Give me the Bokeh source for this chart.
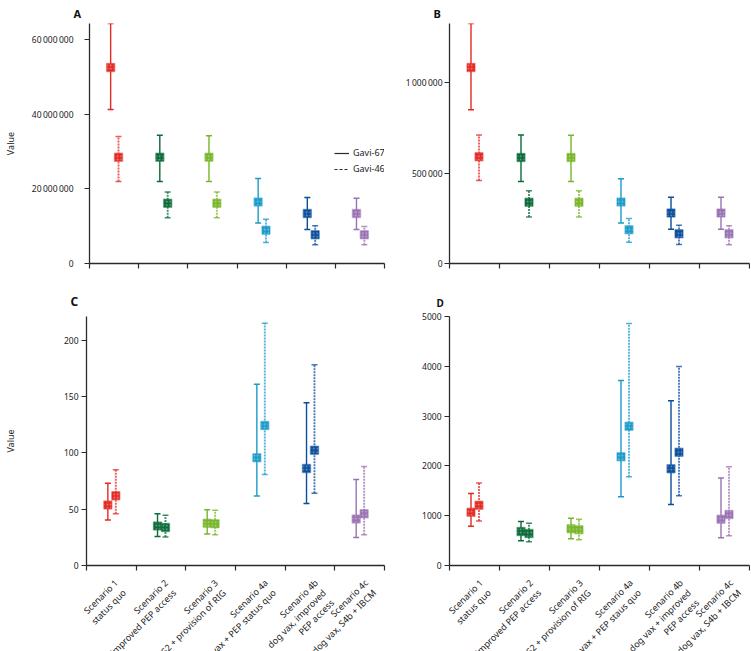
import math
from bokeh.plotting import figure
from bokeh.layouts import column, row
from bokeh.models import FixedTicker, Range1d, Label, Legend, LegendItem
from bokeh.embed import file_html
from bokeh.resources import INLINE

FONT = "Noto Sans"

labels_C = ["Scenario 1\nstatus quo", "Scenario 2\nimproved PEP access",
            "Scenario 3\nS2 + provision of RIG", "Scenario 4a\ndog vax + PEP status quo",
            "Scenario 4b\ndog vax, improved\nPEP access", "Scenario 4c\ndog vax, S4b + IBCM"]
labels_D = ["Scenario 1\nstatus quo", "Scenario 2\nimproved PEP access",
            "Scenario 3\nS2 + provision of RIG", "Scenario 4a\ndog vax + PEP staus quo",
            "Scenario 4b\ndog vax + improved\nPEP access", "Scenario 4c\ndog vax, S4b + IBCM"]
series_names = ["Gavi-67", "Gavi-46"]
colors = ["#e42a23", "#0b6b39", "#77b52a", "#1c9bc9", "#0b4e9b", "#9a72b3"]

# Panel A
A_g67_mid = [52.6e6, 28.5e6, 28.5e6, 16.5e6, 13.4e6, 13.4e6]
A_g67_lo = [41.3e6, 22.0e6, 22.0e6, 10.9e6, 9.1e6, 9.1e6]
A_g67_hi = [64.4e6, 34.4e6, 34.3e6, 22.8e6, 17.7e6, 17.5e6]
A_g46_mid = [28.5e6, 16.2e6, 16.2e6, 8.9e6, 7.7e6, 7.7e6]
A_g46_lo = [22.0e6, 12.3e6, 12.3e6, 5.65e6, 5.0e6, 5.0e6]
A_g46_hi = [34.1e6, 19.2e6, 19.2e6, 11.9e6, 10.1e6, 9.9e6]
A_ticks = [0, 20e6, 40e6, 60e6]
A_tick_labels = ["0", "20\u2009000\u2009000", "40\u2009000\u2009000", "60\u2009000\u2009000"]

# Panel B
B_g67_mid = [1.083e6, 0.586e6, 0.586e6, 0.340e6, 0.279e6, 0.279e6]
B_g67_lo = [0.850e6, 0.453e6, 0.453e6, 0.224e6, 0.189e6, 0.189e6]
B_g67_hi = [1.326e6, 0.710e6, 0.709e6, 0.468e6, 0.366e6, 0.366e6]
B_g46_mid = [0.590e6, 0.339e6, 0.339e6, 0.186e6, 0.164e6, 0.164e6]
B_g46_lo = [0.459e6, 0.257e6, 0.257e6, 0.118e6, 0.105e6, 0.104e6]
B_g46_hi = [0.710e6, 0.402e6, 0.402e6, 0.249e6, 0.211e6, 0.208e6]
B_ticks = [0, 500000, 1000000]
B_tick_labels = ["0", "500\u2009000", "1\u2009000\u2009000"]

# Panel C
C_g67_mid = [53.6, 35.0, 37.6, 95.6, 86.1, 41.2]
C_g67_lo = [40.3, 25.7, 27.9, 61.6, 55.0, 24.8]
C_g67_hi = [73.1, 45.9, 49.4, 160.9, 144.4, 76.3]
C_g46_mid = [61.8, 33.7, 37.0, 124.2, 102.4, 45.9]
C_g46_lo = [45.9, 25.2, 27.2, 80.7, 64.2, 27.2]
C_g46_hi = [84.9, 44.7, 49.1, 215.1, 178.1, 87.8]
C_ticks = [0, 50, 100, 150, 200]
C_tick_labels = ["0", "50", "100", "150", "200"]

# Panel D
D_g67_mid = [1070, 682, 736, 2185, 1945, 930]
D_g67_lo = [790, 495, 535, 1383, 1223, 555]
D_g67_hi = [1444, 882, 950, 3717, 3308, 1758]
D_g46_mid = [1211, 642, 716, 2795, 2273, 1022]
D_g46_lo = [896, 475, 515, 1784, 1403, 595]
D_g46_hi = [1658, 850, 930, 4860, 3998, 1985]
D_ticks = [0, 1000, 2000, 3000, 4000, 5000]
D_tick_labels = ["0", "1000", "2000", "3000", "4000", "5000"]

AXIS_COLOR = "#2b2b2b"
TEXT_COLOR = "#222222"
C45 = math.cos(math.pi / 4)
FRAME_W = 300
N_CAT = 6


def make_panel(letter, ymax, yticks, ylabels, g67, g46, width, height,
               b_left, b_right, b_top, b_bottom, ylabel, tick_standoff, label_standoff,
               letter_offset, letter_size, letter_standoff, legend=False):
    p = figure(width=width, height=height, x_range=Range1d(0, N_CAT), y_range=Range1d(0, ymax),
               output_backend="svg", toolbar_location=None,
               min_border_left=b_left, min_border_right=b_right,
               min_border_top=b_top, min_border_bottom=b_bottom)
    p.grid.visible = False
    p.outline_line_color = None
    p.background_fill_color = "white"
    p.border_fill_color = "white"

    p.title.text = letter
    p.title.align = "left"
    p.title.offset = letter_offset
    p.title.standoff = letter_standoff
    p.title.text_font = FONT
    p.title.text_font_size = letter_size
    p.title.text_font_style = "bold"
    p.title.text_color = "#111111"

    # x axis: ticks at category boundaries only
    xa = p.xaxis[0]
    xa.ticker = FixedTicker(ticks=[], minor_ticks=list(range(N_CAT + 1)))
    xa.major_tick_line_color = None
    xa.major_tick_out = 0
    xa.major_tick_in = 0
    xa.major_label_standoff = 0
    xa.major_label_text_font_size = "0px"
    xa.minor_tick_line_color = AXIS_COLOR
    xa.minor_tick_line_width = 1.2
    xa.minor_tick_in = 0
    xa.minor_tick_out = 5
    xa.axis_line_color = AXIS_COLOR
    xa.axis_line_width = 1.3

    # y axis
    ya = p.yaxis[0]
    ya.ticker = FixedTicker(ticks=yticks)
    ya.major_label_overrides = {t: l for t, l in zip(yticks, ylabels)}
    ya.major_label_text_font = FONT
    ya.major_label_text_font_size = "8.5px"
    ya.major_label_text_color = TEXT_COLOR
    ya.major_tick_in = 0
    ya.major_tick_out = 5
    ya.major_tick_line_width = 1.2
    ya.major_tick_line_color = AXIS_COLOR
    ya.minor_tick_line_color = None
    ya.axis_line_color = AXIS_COLOR
    ya.axis_line_width = 1.3
    ya.major_label_standoff = tick_standoff
    if ylabel:
        ya.axis_label = ylabel
        ya.axis_label_text_font = FONT
        ya.axis_label_text_font_size = "9px"
        ya.axis_label_text_font_style = "normal"
        ya.axis_label_text_color = TEXT_COLOR
        ya.axis_label_standoff = label_standoff

    offsets = [-0.07, 0.09]
    for s, (mid, lo, hi) in enumerate([g67, g46]):
        xs = [i + 0.5 + offsets[s] for i in range(N_CAT)]
        dash = "solid" if s == 0 else "2 1"
        lw = 1.4 if s == 0 else 1.9
        la = 1.0 if s == 0 else 0.75
        p.segment(x0=xs, y0=lo, x1=xs, y1=hi, line_color=colors, line_width=lw,
                  line_dash=dash, line_alpha=la)
        p.scatter(x=xs + xs, y=lo + hi, marker="dash", size=6, angle=0,
                  line_color=colors + colors, line_width=1.5, line_alpha=la)
        p.scatter(x=xs, y=mid, marker="square", size=8, fill_color=colors,
                  line_color=colors, line_alpha=0.45, line_width=1.5,
                  hatch_pattern="dot", hatch_color="white", hatch_alpha=0.45,
                  hatch_scale=3.5, hatch_weight=1)

    if legend:
        r1 = p.line(x=[0], y=[0], line_color=AXIS_COLOR, line_width=1.2, visible=False)
        r2 = p.line(x=[0], y=[0], line_color=AXIS_COLOR, line_width=1.2, line_dash="3 2",
                    visible=False)
        lg = Legend(items=[LegendItem(label=series_names[0], renderers=[r1]),
                           LegendItem(label=series_names[1], renderers=[r2])],
                    location=(245, 88), border_line_color=None,
                    background_fill_alpha=0, label_text_font=FONT,
                    label_text_font_size="9px", label_text_color=TEXT_COLOR,
                    glyph_width=15, glyph_height=12, label_height=12,
                    spacing=3, padding=0, margin=0, label_standoff=4)
        p.add_layout(lg)
    return p


def make_label_strip(xlabels, width, height, frame_left, frame_right_border):
    # a strip below a panel carrying the rotated category labels;
    # its x scale is aligned with the panel above (50 px per category)
    ppu = FRAME_W / N_CAT
    xr = Range1d(-frame_left / ppu, N_CAT + frame_right_border / ppu)
    p = figure(width=width, height=height, x_range=xr, y_range=Range1d(-1, 0),
               x_axis_type=None, y_axis_type=None,
               output_backend="svg", toolbar_location=None,
               min_border_left=0, min_border_right=0, min_border_top=0, min_border_bottom=0)
    p.grid.visible = False
    p.outline_line_color = None
    p.background_fill_color = "white"
    p.border_fill_color = "white"
    # screen displacement of the end of the first line from (category centre, strip top)
    dx, dy = 5.0, -2.0
    base_u = C45 * (dx + dy)      # offsets are applied in the rotated text frame
    base_v = C45 * (dy - dx)
    line_h = 10.0
    slide = 8.0
    for i, lab in enumerate(xlabels):
        for j, txt in enumerate(lab.split("\n")):
            p.add_layout(Label(x=i + 0.5, y=0, x_offset=base_u + j * slide,
                               y_offset=base_v - j * line_h,
                               text=txt, angle=math.pi / 4, text_align="right",
                               text_baseline="top", text_font=FONT, text_font_size="9px",
                               text_color=TEXT_COLOR))
    return p


TOP_H = 275
BOT_H = 296
LAB_H = 80
W_L, W_R = 389, 361
pA = make_panel("A", 64.4e6, A_ticks, A_tick_labels,
                (A_g67_mid, A_g67_lo, A_g67_hi), (A_g46_mid, A_g46_lo, A_g46_hi),
                W_L, TOP_H, 84, 5, 21, 12, "Value", 11, 12,
                -16, "11px", 6, legend=True)
pB = make_panel("B", 1.326e6, B_ticks, B_tick_labels,
                (B_g67_mid, B_g67_lo, B_g67_hi), (B_g46_mid, B_g46_lo, B_g46_hi),
                W_R, TOP_H, 60, 1, 21, 12, None, 2, 0,
                -16, "11px", 6)
pC = make_panel("C", 221, C_ticks, C_tick_labels,
                (C_g67_mid, C_g67_lo, C_g67_hi), (C_g46_mid, C_g46_lo, C_g46_hi),
                W_L, BOT_H, 84, 5, 41, 6, "Value", 3, 44,
                -16, "12px", 13)
pD = make_panel("D", 5000, D_ticks, D_tick_labels,
                (D_g67_mid, D_g67_lo, D_g67_hi), (D_g46_mid, D_g46_lo, D_g46_hi),
                W_R, BOT_H, 60, 1, 41, 6, None, 3, 0,
                -13, "10px", 14)
lC = make_label_strip(labels_C, W_L, LAB_H, 84, 5)
lD = make_label_strip(labels_D, W_R, LAB_H, 60, 1)

layout = column(row(pA, pB), row(pC, pD), row(lC, lD))
open("out.html", "w").write(file_html(layout, INLINE))
